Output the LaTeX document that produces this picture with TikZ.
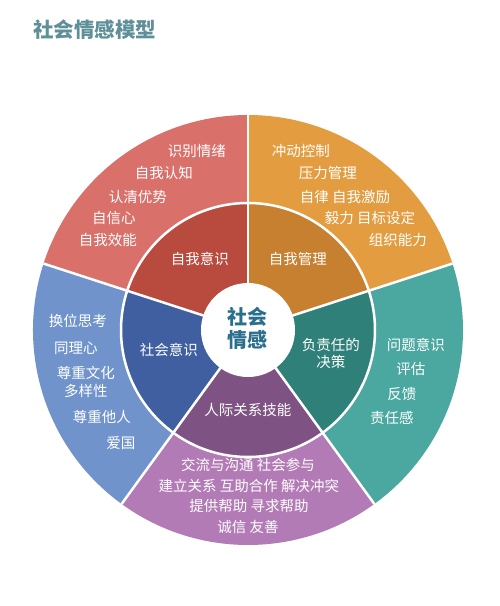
\documentclass[tikz,border=0pt]{standalone}
\usepackage{fontspec}
\setmainfont{Noto Sans CJK SC}
\usetikzlibrary{positioning}

\definecolor{outerRed}{HTML}{D9706A}
\definecolor{innerRed}{HTML}{B84A3E}
\definecolor{outerOrange}{HTML}{E39C3F}
\definecolor{innerOrange}{HTML}{C77F30}
\definecolor{outerTeal}{HTML}{4AA8A0}
\definecolor{innerTeal}{HTML}{2F8078}
\definecolor{outerPurple}{HTML}{B27BB5}
\definecolor{innerPurple}{HTML}{7E5383}
\definecolor{outerBlue}{HTML}{7093CB}
\definecolor{innerBlue}{HTML}{3F5FA0}
\definecolor{coreBlue}{HTML}{2B6F8E}
\definecolor{titleGrey}{HTML}{5F8F99}

\begin{document}
\begin{tikzpicture}
[x=1pt,y=1pt,%
  labelText/.style={text=white,font=\fontsize{14.5}{17}\selectfont,inner sep=0pt},%
  coreText/.style={text=coreBlue,font=\bfseries\fontsize{20}{24}\selectfont,inner sep=0pt},%
  sepLine/.style={white,line width=2.5pt}]
\useasboundingbox (-248,-276) rectangle (251,330);
%% title
\node (title) at (-215,300) [anchor=west,inner sep=0pt,text=titleGrey,
  font=\bfseries\fontsize{20.5}{24}\selectfont] {社会情感模型};
%% outer and inner rings
\foreach \outer/\inner/\from/\to in {
  outerRed/innerRed/90/162, outerOrange/innerOrange/18/90,
  outerTeal/innerTeal/-54/18, outerPurple/innerPurple/-126/-54,
  outerBlue/innerBlue/162/234}
{
  \fill[\outer] (0,0) -- (\from:215pt) arc (\from:\to:215pt) -- cycle;
  \fill[\inner] (0,0) -- (\from:127pt) arc (\from:\to:127pt) -- cycle;
}
%% white separators
\foreach \angle in {90, 18, -54, -126, 162}
{
  \draw[sepLine] (0,0) -- (\angle:215pt);
}
\draw[sepLine] (0,0) circle (127pt);
\fill[white] (0,0) circle (47pt);
%% centre
\node (core1) at (0,13) [coreText] {社会};
\node (core2) at (0,-10) [coreText] {情感};
%% inner ring labels
\foreach \nodename/\x/\y/\txt in {
  selfAware/-48/71/自我意识, selfManage/50/71/自我管理,
  socialAware/-79/-20/社会意识, decisionA/83/-15/负责任的,
  decisionB/83/-32/决策, relation/0/-80/人际关系技能}
{
  \node (\nodename) at (\x,\y) [labelText] {\txt};
}
%% outer ring labels
\foreach \nodename/\x/\y/\txt in {
  red1/-51/179/识别情绪, red2/-84/157/自我认知, red3/-110/133/认清优势,
  red4/-134/112/自信心, red5/-140/90/自我效能,
  orange1/53/179/冲动控制, orange2/80/157/压力管理,
  orange3/97/133/自律 自我激励, orange4/122/112/毅力 目标设定,
  orange5/150/90/组织能力,
  teal1/168/-15/问题意识, teal2/163/-39/评估, teal3/154/-64/反馈,
  teal4/144/-88/责任感,
  purple1/0/-135/交流与沟通 社会参与, purple2/1/-156/建立关系 互助合作 解决冲突,
  purple3/1/-176/提供帮助 寻求帮助, purple4/0/-197/诚信 友善,
  blue1/-170/9/换位思考, blue2/-172/-18/同理心, blue3/-162/-43/尊重文化,
  blue4/-162/-61/多样性, blue5/-146/-87/尊重他人, blue6/-127/-113/爱国}
{
  \node (\nodename) at (\x,\y) [labelText] {\txt};
}
\end{tikzpicture}
\end{document}
